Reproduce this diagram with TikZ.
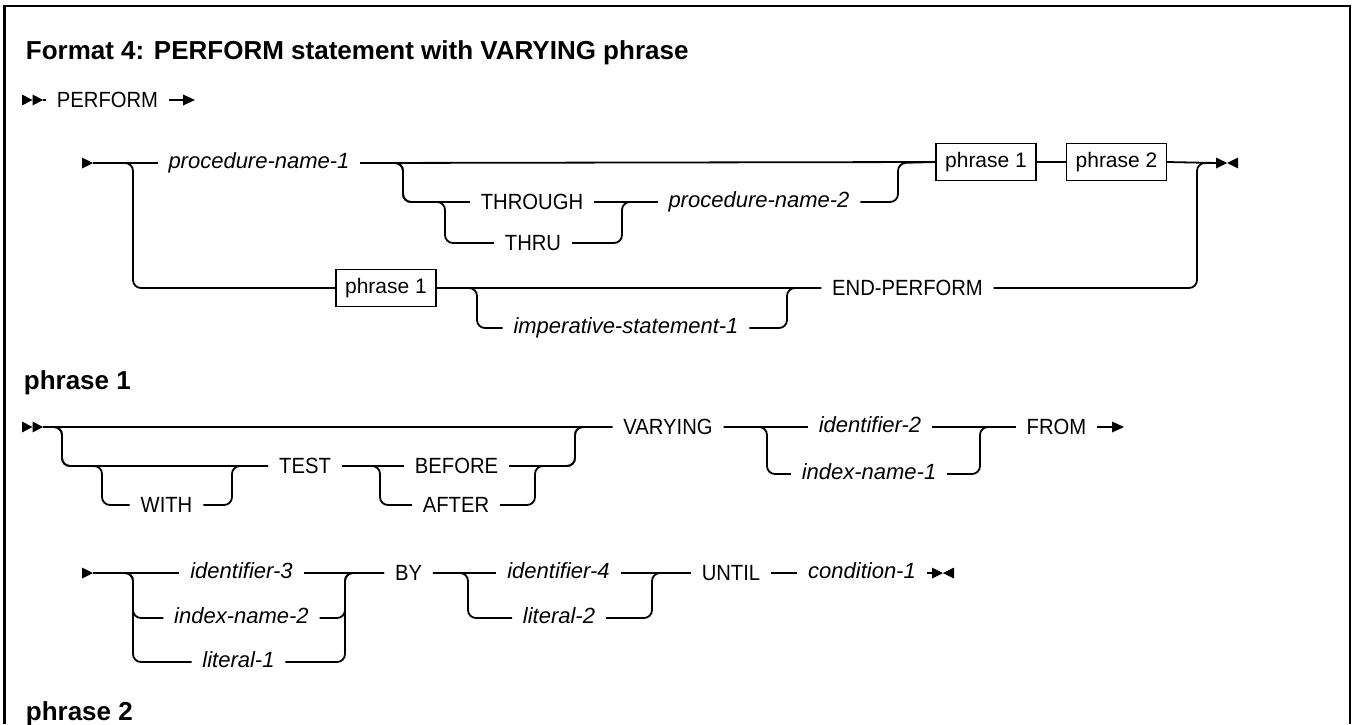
\documentclass[tikz,border=0pt]{standalone}
\usepackage{fontspec}
\setmainfont{Liberation Sans}
\newfontfamily\kwfont[FakeStretch=0.92]{Liberation Sans}
\tikzset{
  kwd/.style={inner xsep=10pt, inner ysep=0pt, anchor=center, text height=15pt, text depth=0pt,
              font=\kwfont\fontsize{22}{26}\selectfont},
  varn/.style={inner xsep=10pt, inner ysep=0pt, anchor=center, text height=10pt, text depth=0pt,
              font=\fontsize{22}{26}\selectfont\itshape},
  refbox/.style={draw, line width=1.6pt, inner xsep=9pt, inner ysep=0pt, minimum height=37pt,
              text height=15pt, text depth=4pt, font=\fontsize{21}{25}\selectfont},
  hdg/.style={anchor=base west, inner sep=0pt, font=\fontsize{26}{30}\selectfont\bfseries},
  rnd/.style={rounded corners=8pt},
  pics/startdbl/.style={code={\fill (-21pt,-5.5pt) -- (-10.5pt,0pt) -- (-21pt,5.5pt) -- cycle;
                               \fill (-10.5pt,-5.5pt) -- (0pt,0pt) -- (-10.5pt,5.5pt) -- cycle;}},
  pics/startone/.style={code={\fill (-11pt,-5.5pt) -- (0pt,0pt) -- (-11pt,5.5pt) -- cycle;}},
  pics/endmk/.style={code={\fill (0pt,-5.5pt) -- (11pt,0pt) -- (0pt,5.5pt) -- cycle;
                            \fill (22pt,-5.5pt) -- (11pt,0pt) -- (22pt,5.5pt) -- cycle;}},
  pics/arrhead/.style={code={\fill (-12pt,-5.5pt) -- (0pt,0pt) -- (-12pt,5.5pt) -- cycle;}},
}
\begin{document}
\begin{tikzpicture}[x=1pt,y=-1pt,line width=1.8pt]
\useasboundingbox (0,0) rectangle (1352,724);
% frame
\draw[line width=2.5pt] (4.5,724) -- (4.5,6) -- (1350,6) -- (1350,724);

% title
\node[hdg] (title) at (25,59) {Format 4: PERFORM statement with VARYING phrase};

% line 2
\coordinate (l2s) at (43,100); \pic at (l2s) {startdbl};
\node[kwd] (perform) at (107.5,100) {PERFORM};
\coordinate (l2e) at (195,100); \pic at (l2e) {arrhead};
\draw (l2s) -- (perform.west);
\draw (perform.east) -- ([xshift=-8pt]l2e);

% main diagram
\coordinate (ms) at (93,163); \pic at (ms) {startone};
\node[varn] (pn1) at (259,163) {procedure-name-1};
\node[kwd] (thr) at (532,202) {THROUGH};
\node[kwd] (thru) at (533,243) {THRU};
\node[varn] (pn2) at (759,202) {procedure-name-2};
\node[refbox] (p1a) at (986,162) {phrase 1};
\node[refbox] (p2a) at (1116.5,162) {phrase 2};
\coordinate (me) at (1216,163); \pic at (me) {endmk};
\node[refbox] (p1b) at (386,288) {phrase 1};
\node[varn] (imp) at (626,328) {imperative-statement-1};
\node[kwd] (endp) at (907.5,288) {END-PERFORM};

\draw (ms) -- (pn1.west);
\draw (pn1.east) -- (p1a.west);
\draw (p1a.east) -- (p2a.west);
\draw (p2a.east) -- (me);
\draw[rnd] (ms) -- (133,163) -- (133,288) -- (p1b.west);
\draw[rnd] (pn1.east) -- (403,163) -- (403,202) -- (thr.west);
\draw[rnd] (pn1.east) -- (403,163) -- (403,202) -- (445,202) -- (445,243) -- (thru.west);
\draw (thr.east) -- (pn2.west);
\draw[rnd] (thru.east) -- (622,243) -- (622,202) -- (pn2.west);
\draw[rnd] (pn2.east) -- (898,202) -- (898,163) -- (p1a.west);
\draw[rnd] (p1b.east) -- (477,288) -- (477,328) -- (imp.west);
\draw (p1b.east) -- (endp.west);
\draw[rnd] (imp.east) -- (787,328) -- (787,288) -- (endp.west);
\draw[rnd] (endp.east) -- (1197,288) -- (1197,163) -- (me);

% phrase 1
\node[hdg] (h1) at (23,389) {phrase 1};
\coordinate (ps) at (43,427); \pic at (ps) {startdbl};
\node[kwd] (test) at (305,466) {TEST};
\node[kwd] (with) at (166.5,505) {WITH};
\node[kwd] (bef) at (456.5,466) {BEFORE};
\node[kwd] (aft) at (456,505) {AFTER};
\node[kwd] (vary) at (668,427) {VARYING};
\node[varn] (id2) at (870,427) {identifier-2};
\node[varn] (ix1) at (869,474) {index-name-1};
\node[kwd] (from) at (1056.5,427) {FROM};
\coordinate (fe) at (1124,427); \pic at (fe) {arrhead};

\draw (ps) -- (vary.west);
\draw[rnd] (ps) -- (62,427) -- (62,466) -- (test.west);
\draw[rnd] (ps) -- (62,427) -- (62,466) -- (102,466) -- (102,505) -- (with.west);
\draw[rnd] (with.east) -- (232,505) -- (232,466) -- (test.west);
\draw (test.east) -- (bef.west);
\draw[rnd] (test.east) -- (380,466) -- (380,505) -- (aft.west);
\draw[rnd] (bef.east) -- (575,466) -- (575,427) -- (vary.west);
\draw[rnd] (aft.east) -- (535,505) -- (535,466) -- (575,466) -- (575,427) -- (vary.west);
\draw (vary.east) -- (id2.west);
\draw[rnd] (vary.east) -- (767,427) -- (767,474) -- (ix1.west);
\draw (id2.east) -- (from.west);
\draw[rnd] (ix1.east) -- (980,474) -- (980,427) -- (from.west);
\draw (from.east) -- ([xshift=-8pt]fe);

% phrase 1, second line
\coordinate (qs) at (93,573); \pic at (qs) {startone};
\node[varn] (id3) at (241.5,573) {identifier-3};
\node[varn] (ix2) at (241.5,618) {index-name-2};
\node[varn] (lit1) at (238.5,662) {literal-1};
\node[kwd] (by) at (408.5,573) {BY};
\node[varn] (id4) at (558.5,573) {identifier-4};
\node[varn] (lit2) at (559,618) {literal-2};
\node[kwd] (until) at (731,573) {UNTIL};
\node[varn] (cond) at (862,573) {condition-1};
\coordinate (qe) at (932,573); \pic at (qe) {endmk};

\draw (qs) -- (id3.west);
\draw[rnd] (qs) -- (133,573) -- (133,618) -- (ix2.west);
\draw[rnd] (qs) -- (133,573) -- (133,662) -- (lit1.west);
\draw (id3.east) -- (by.west);
\draw[rnd] (ix2.east) -- (345,618) -- (345,573) -- (by.west);
\draw[rnd] (lit1.east) -- (345,662) -- (345,573) -- (by.west);
\draw (by.east) -- (id4.west);
\draw[rnd] (by.east) -- (468,573) -- (468,618) -- (lit2.west);
\draw (id4.east) -- (until.west);
\draw[rnd] (lit2.east) -- (652,618) -- (652,573) -- (until.west);
\draw (until.east) -- (cond.west);
\draw (cond.east) -- (qe);

% phrase 2
\node[hdg] (h2) at (25,720) {phrase 2};
\end{tikzpicture}
\end{document}
